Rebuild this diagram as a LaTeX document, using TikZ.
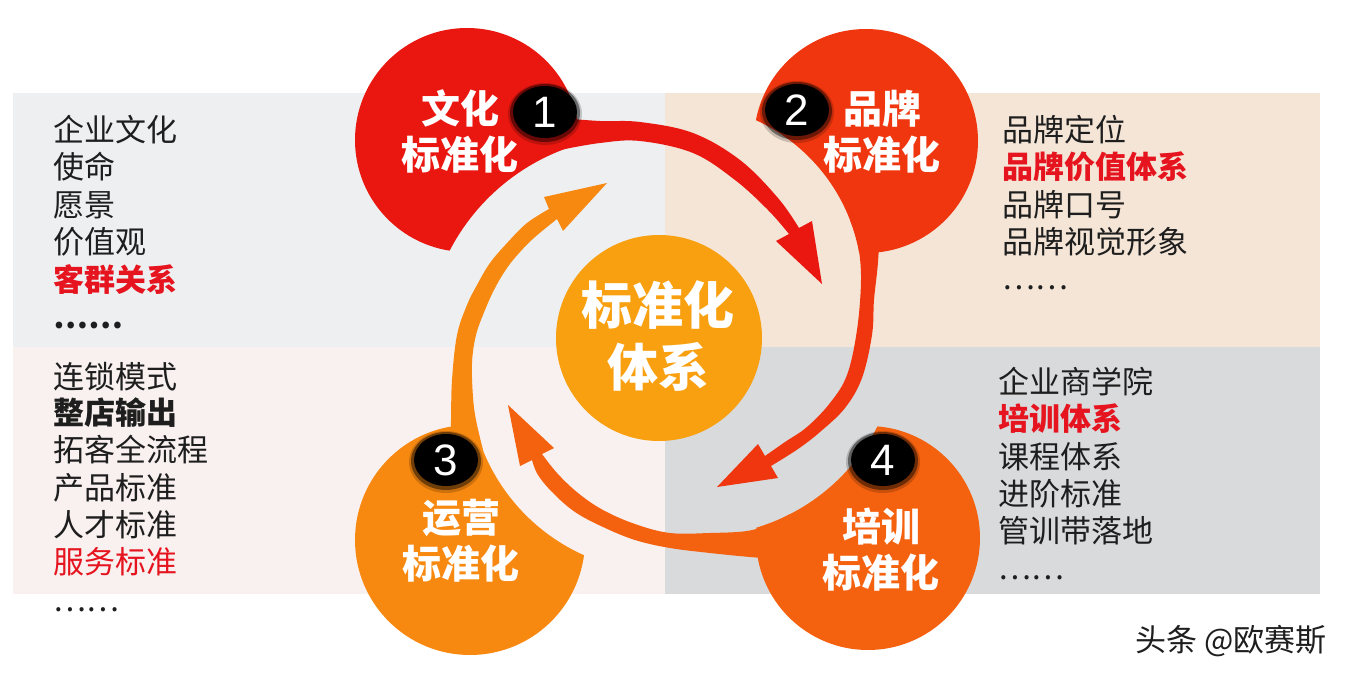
\documentclass[tikz,border=0pt]{standalone}
\usepackage{fontspec}
\setmainfont{Liberation Sans}
\newfontfamily\cjk{Noto Sans CJK SC}
\definecolor{pTL}{RGB}{237,239,241}
\definecolor{pTR}{RGB}{244,229,214}
\definecolor{pBL}{RGB}{248,241,240}
\definecolor{pBR}{RGB}{217,218,220}
\definecolor{cOne}{RGB}{234,22,16}
\definecolor{cTwo}{RGB}{240,54,14}
\definecolor{cThree}{RGB}{248,137,16}
\definecolor{cFour}{RGB}{245,98,15}
\definecolor{cCore}{RGB}{249,160,16}
\definecolor{txtDark}{RGB}{30,30,30}
\definecolor{txtRed}{RGB}{230,20,30}
\begin{document}
\begin{tikzpicture}[x=0.5pt,y=-0.5pt,
  listtxt/.style={anchor=west,inner sep=0pt,text=txtDark,font=\cjk\fontsize{15.5}{15.5}\selectfont},
  listbold/.style={listtxt,font=\cjk\bfseries\fontsize{15.5}{15.5}\selectfont},
  listred/.style={listbold,text=txtRed},
  listredthin/.style={listtxt,text=txtRed},
  circlabel/.style={inner sep=0pt,align=center,text=white,font=\cjk\bfseries\fontsize{19.5}{23}\selectfont},
  corelabel/.style={inner sep=0pt,align=center,text=white,font=\cjk\bfseries\fontsize{25.5}{31}\selectfont},
  digit/.style={inner sep=0pt,text=white,font=\fontsize{22}{22}\selectfont},
  blurA/.style={fill=black,opacity=0.18},
  blurB/.style={fill=black,opacity=0.45},
  swirl/.style={smooth,tension=0.6},
]
\useasboundingbox (0,0) rectangle (1356,680);
\fill[white] (0,0) rectangle (1356,680);
% panels
\fill[pTL] (13,93) rectangle (665,347);
\fill[pTR] (665,93) rectangle (1320,347);
\fill[pBL] (13,347) rectangle (665,594);
\fill[pBR] (665,347) rectangle (1320,594);

% circle 1 (cut)
\begin{scope}
  \clip (0,0) -- (1356,0) -- (1356,680) -- (0,680) -- cycle
        (850,348) arc[start angle=0,end angle=-360,radius=212];
  \fill[cOne] (467,140) circle (112);
\end{scope}
% circle 2
\begin{scope}
  \clip (0,0) -- (1356,0) -- (1356,680) -- (0,680) -- cycle
        (862,285) arc[start angle=0,end angle=-360,radius=181];
  \fill[cTwo] (866,141) circle (112);
\end{scope}
% circle 3
\begin{scope}
  \clip (0,0) -- (1356,0) -- (1356,680) -- (0,680) -- cycle
        (857,378) arc[start angle=0,end angle=-360,radius=194];
  \fill[cThree] (470,540) circle (115);
\end{scope}
% circle 4
\begin{scope}
  \clip (0,0) -- (1356,0) -- (1356,680) -- (0,680) -- cycle
        (899,336) arc[start angle=0,end angle=-360,radius=200];
  \fill[cFour] (868,538) circle (112);
\end{scope}

% arrow 1 (red, top)
\fill[cOne] plot[swirl] coordinates {(560,118) (600,121) (640,122) (693,133) (740,160) (778,198) (799,228)}
  -- (812,221) -- (822,284) -- (776,241) --
  plot[swirl] coordinates {(789,234) (768,210) (735,180) (693,153) (640,141) (600,143) (560,150)} -- cycle;
% arrow 2 (red, right)
\fill[cTwo] plot[swirl] coordinates {(880,220) (878,262) (874,300) (872,335) (862,378) (845,408) (820,432) (798,449) (771,466)}
  -- (778,478) -- (717,487) -- (758,444) --
  plot[swirl] coordinates {(765,456) (785,442) (807,427) (830,403) (847,375) (857,330) (861,280) (858,245) (850,220)} -- cycle;
% arrow 3 (orange-red, bottom)
\fill[cFour] plot[swirl] coordinates {(790,560) (750,557) (710,553) (670,548) (635,540) (603,527) (575,512) (553,493) (538,475) (532,460)}
  -- (520,466) -- (508,405) -- (554,448) --
  plot[swirl] coordinates {(542,454) (557,473) (578,493) (603,510) (635,524) (670,533) (710,533) (747,531) (770,524) (790,514)} -- cycle;
% arrow 4 (orange, left)
\fill[cThree] plot[swirl] coordinates {(450,450) (451,420) (452,380) (457,335) (467,305) (477,285) (490,263) (508,242) (527,223) (549,209)}
  -- (544,197) -- (607,183) -- (563,231) --
  plot[swirl] coordinates {(557,219) (535,237) (520,252) (507,268) (495,288) (485,310) (476,335) (472,363) (473,397) (476,420) (483,450)} -- cycle;

% core
\fill[cCore] (659,338) circle (103);
\node[corelabel] (core) at (658,336) {标准化\\体系};

% circle labels
\node[circlabel] (l1) at (460,131) {文化\\标准化};
\node[circlabel] (l2) at (882,132) {品牌\\标准化};
\node[circlabel] (l3) at (461,541) {运营\\标准化};
\node[circlabel] (l4) at (881,550) {培训\\标准化};

% badges (soft black discs)
\fill[blurA] (545,114) ellipse (37 and 31);
\fill[blurB] (545,113) ellipse (35 and 29);
\fill[black] (545,112) ellipse (32 and 26);
\node[digit] (d1) at (545,112) {1};
\fill[blurA] (797,112) ellipse (37 and 31);
\fill[blurB] (797,111) ellipse (35 and 29);
\fill[black] (797,110) ellipse (32 and 26);
\node[digit] (d2) at (797,110) {2};
\fill[blurA] (446,462) ellipse (37 and 31);
\fill[blurB] (446,461) ellipse (35 and 29);
\fill[black] (446,460) ellipse (32 and 26);
\node[digit] (d3) at (446,460) {3};
\fill[blurA] (883,462) ellipse (37 and 31);
\fill[blurB] (883,461) ellipse (35 and 29);
\fill[black] (883,460) ellipse (32 and 26);
\node[digit] (d4) at (883,460) {4};

% lists top-left
\node[listtxt] (a1) at (53,130) {企业文化};
\node[listtxt] (a2) at (53,167) {使命};
\node[listtxt] (a3) at (53,205) {愿景};
\node[listtxt] (a4) at (53,242) {价值观};
\node[listred] (a5) at (53,280) {客群关系};
\node[listbold] (a6) at (53,326) {……};
% bottom-left
\node[listtxt] (b1) at (53,377) {连锁模式};
\node[listbold] (b2) at (53,413) {整店输出};
\node[listtxt] (b3) at (53,450) {拓客全流程};
\node[listtxt] (b4) at (53,488) {产品标准};
\node[listtxt] (b5) at (53,525) {人才标准};
\node[listredthin] (b6) at (53,562) {服务标准};
\node[listtxt] (b7) at (53,610) {……};
% top-right
\node[listtxt] (c1) at (1002,130) {品牌定位};
\node[listred] (c2) at (1002,167) {品牌价值体系};
\node[listtxt] (c3) at (1002,205) {品牌口号};
\node[listtxt] (c4) at (1002,242) {品牌视觉形象};
\node[listtxt] (c5) at (1002,288) {……};
% bottom-right
\node[listtxt] (e1) at (998,382) {企业商学院};
\node[listred] (e2) at (998,419) {培训体系};
\node[listtxt] (e3) at (998,457) {课程体系};
\node[listtxt] (e4) at (998,494) {进阶标准};
\node[listtxt] (e5) at (998,531) {管训带落地};
\node[listtxt] (e6) at (998,578) {……};

% watermark
\node[inner sep=0pt,text=txtDark,font=\cjk\fontsize{15.5}{15.5}\selectfont] (wm) at (1231,641) {头条 @欧赛斯};
\end{tikzpicture}
\end{document}
